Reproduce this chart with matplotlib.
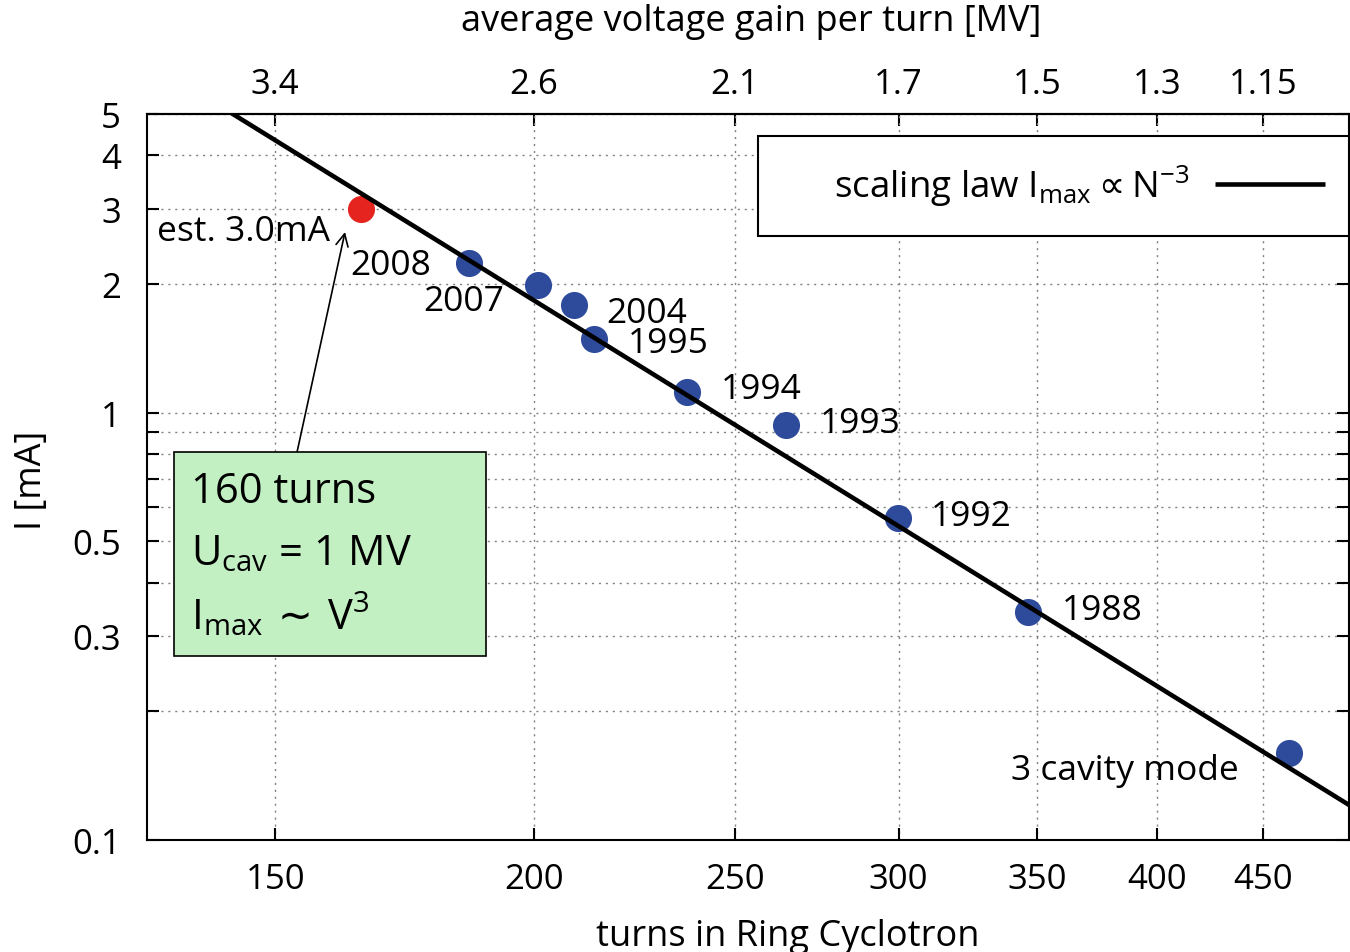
import matplotlib
matplotlib.use("Agg")
import matplotlib.pyplot as plt
from matplotlib.patches import Rectangle
from matplotlib.ticker import FixedLocator, FixedFormatter, NullLocator

plt.rcParams["font.family"] = ["Open Sans", "DejaVu Sans"]
plt.rcParams["mathtext.fontset"] = "dejavusans"

# Measured maximum beam current vs. number of turns in the ring
turns = [186.0, 200.9, 209.0, 213.9, 237.1, 264.8, 299.9, 346.5, 462.9]
current_mA = [2.24, 1.99, 1.79, 1.49, 1.115, 0.937, 0.568, 0.341, 0.160]
point_labels = ["2008", "2007", "2004", "1995", "1994", "1993", "1992", "1988",
                "3 cavity mode"]

# Estimate for the upgraded machine
est_turns = [165.0]
est_current_mA = [3.0]
est_label = "est. 3.0mA"

# Scaling law I_max = C * N^-3
law_coeff = 1.465e7
law_exponent = -3
law_turns = [130.0, 495.0]

# Axis ticks
turn_ticks = [150, 200, 250, 300, 350, 400, 450]
voltage_labels = ["3.4", "2.6", "2.1", "1.7", "1.5", "1.3", "1.15"]
current_ticks = [0.1, 0.2, 0.3, 0.4, 0.5, 0.6, 0.7, 0.8, 0.9, 1, 2, 3, 4, 5]
current_tick_labels = ["0.1", "", "0.3", "", "0.5", "", "", "", "", "1", "2", "3", "4", "5"]

# Text placement for the point labels (pixel offsets, horizontal alignment)
label_layout = [(-38, -11, "right"), (-34, -25, "right"), (33, -17, "left"),
                (33, -13, "left"), (34, -6, "left"), (33, -7, "left"),
                (33, -7, "left"), (34, -7, "left"), (-50, -26, "right")]

BLUE = "#2d4a9b"
RED = "#e52420"
GREEN = "#c3f0c3"

TICK_SIZE = 25
LABEL_SIZE = 25.5
TITLE_SIZE = 26

fig = plt.figure(figsize=(13.5, 9.53), dpi=100)
ax = fig.add_axes([146.5 / 1350, 112 / 953, (1349 - 146.5) / 1350, 726 / 953])
ax.set_xscale("log")
ax.set_yscale("log")
ax.set_xlim(law_turns[0], law_turns[1])
ax.set_ylim(0.1, 5)

ax.xaxis.set_major_locator(FixedLocator(turn_ticks))
ax.xaxis.set_major_formatter(FixedFormatter([str(t) for t in turn_ticks]))
ax.xaxis.set_minor_locator(NullLocator())
ax.yaxis.set_major_locator(FixedLocator(current_ticks))
ax.yaxis.set_major_formatter(FixedFormatter(current_tick_labels))
ax.yaxis.set_minor_locator(NullLocator())

for s in ax.spines.values():
    s.set_linewidth(1.5)
ax.tick_params(axis="both", which="major", direction="in", length=8.5, width=1.5,
               labelsize=TICK_SIZE, right=True)
ax.tick_params(axis="x", pad=16)
ax.tick_params(axis="y", pad=18.5)

ax.grid(True, which="major", linestyle=(0, (1.5, 3.5)), color="#808080", linewidth=1.0)

# Top axis: average voltage gain per turn at the same tick positions
top = ax.secondary_xaxis("top")
top.xaxis.set_major_locator(FixedLocator(turn_ticks))
top.xaxis.set_major_formatter(FixedFormatter(voltage_labels))
top.xaxis.set_minor_locator(NullLocator())
top.tick_params(axis="x", direction="in", length=8.5, width=1.5, labelsize=TICK_SIZE, pad=9)
top.spines["top"].set_linewidth(1.5)

# Scaling law line
law_current = [law_coeff * n ** law_exponent for n in law_turns]
law_line, = ax.plot(law_turns, law_current, color="black", linewidth=3.3, zorder=4,
                    solid_capstyle="butt",
                    label=r"scaling law $\mathregular{I_{max}}{\propto}\mathregular{N^{-3}}$")

# Measured points and the estimate
ax.plot(turns, current_mA, "o", color=BLUE, markersize=19.5, markeredgewidth=0, zorder=3)
ax.plot(est_turns, est_current_mA, "o", color=RED, markersize=19.5, markeredgewidth=0,
        zorder=3)

for x, y, txt, (dx, dy, ha) in zip(turns, current_mA, point_labels, label_layout):
    ax.annotate(txt, (x, y), xytext=(dx, dy), textcoords="offset pixels",
                ha=ha, va="baseline", fontsize=LABEL_SIZE, zorder=6)
ax.annotate(est_label, (est_turns[0], est_current_mA[0]), xytext=(-31, -31),
            textcoords="offset pixels", ha="right", va="baseline", fontsize=LABEL_SIZE,
            zorder=6)

# Legend box
ax.add_patch(Rectangle((0.5085, 0.832), 0.4915, 0.1377, transform=ax.transAxes,
                       facecolor="white", edgecolor="black", linewidth=1.5, zorder=5))
leg = ax.legend(handles=[law_line], loc="center right", bbox_to_anchor=(0.980, 0.902),
                frameon=False, markerfirst=False, handlelength=3.0, handletextpad=0.68,
                borderpad=0, borderaxespad=0, fontsize=26.5)
leg.set_zorder(6)

# Info box with arrow to the estimate
ax.annotate("", xy=(0.1651, 0.8375), xytext=(0.1252, 0.5344), xycoords="axes fraction",
            arrowprops=dict(arrowstyle="->", color="black", lw=1.2, mutation_scale=22,
                            shrinkA=0, shrinkB=0), zorder=4)
ax.add_patch(Rectangle((0.0229, 0.2534), 0.2594, 0.281, transform=ax.transAxes,
                       facecolor=GREEN, edgecolor="black", linewidth=1.2, zorder=5))
box_lines = ["160 turns", r"$\mathregular{U_{cav}}$ = 1 MV",
             r"$\mathregular{I_{max}}\,{\sim}\,\mathregular{V^{3}}$"]
for txt, yb in zip(box_lines, [0.4656, 0.380, 0.2906]):
    ax.text(0.037, yb, txt, transform=ax.transAxes, fontsize=30, ha="left",
            va="baseline", zorder=6)

# Axis titles
fig.text(788 / 1350, 1 - 946 / 953, "turns in Ring Cyclotron", fontsize=TITLE_SIZE,
         ha="center", va="baseline")
fig.text(751 / 1350, 1 - 22 / 953, "average voltage gain per turn [MV]",
         fontsize=TITLE_SIZE, ha="center", va="center")
fig.text(32 / 1350, 1 - 480 / 953, "I [mA]", fontsize=TITLE_SIZE, rotation=90,
         ha="center", va="center")

fig.savefig("out.png", dpi=100)
